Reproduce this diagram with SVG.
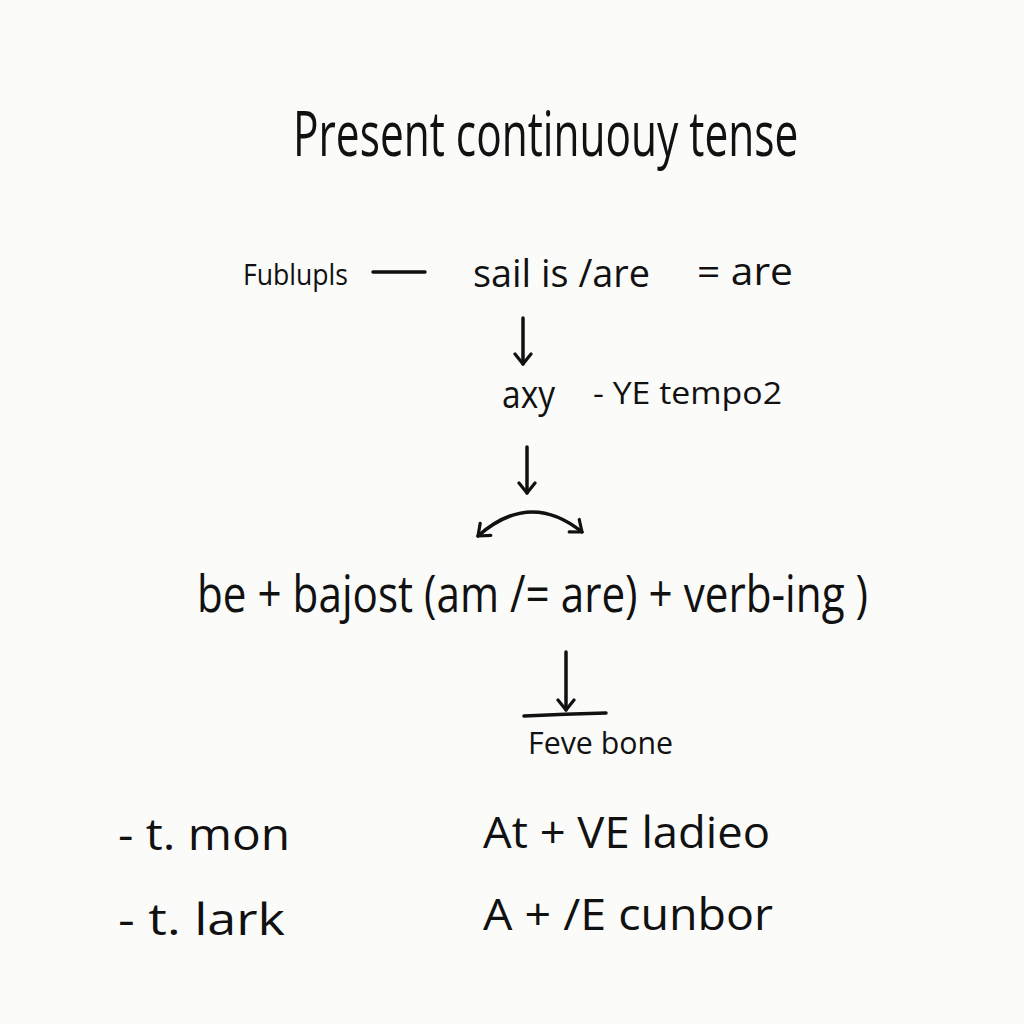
<svg xmlns="http://www.w3.org/2000/svg" width="1024" height="1024" viewBox="0 0 1024 1024">
<defs>
<style>
text{font-family:"Open Sans","Liberation Sans",sans-serif;fill:#111;}
.ln{stroke:#111;stroke-width:3.5;fill:none;stroke-linecap:round;stroke-linejoin:round;}
</style>
<marker id="ah" viewBox="0 0 16 20" refX="12" refY="10" markerWidth="16" markerHeight="20" markerUnits="userSpaceOnUse" orient="auto-start-reverse">
<path d="M2,2 L12,10 L2,18" fill="none" stroke="#111" stroke-width="3.2" stroke-linecap="round" stroke-linejoin="round"/>
</marker>
</defs>
<rect width="1024" height="1024" fill="#fbfbf9"/>
<g id="title"><text transform="translate(293,156) scale(0.62,1)" x="0" y="0" font-size="62" textLength="815" lengthAdjust="spacingAndGlyphs">Present continuouy tense</text></g>
<g id="row1">
<text x="243" y="285" font-size="30" textLength="105" lengthAdjust="spacingAndGlyphs">Fublupls</text>
<text x="473" y="287" font-size="38" textLength="177" lengthAdjust="spacingAndGlyphs">sail is /are</text>
<text x="697" y="285" font-size="38" textLength="96" lengthAdjust="spacingAndGlyphs">= are</text>
</g>
<g id="row2">
<text x="502" y="408" font-size="38" textLength="53" lengthAdjust="spacingAndGlyphs">axy</text>
<text x="593" y="404" font-size="31" textLength="189" lengthAdjust="spacingAndGlyphs">- YE tempo2</text>
</g>
<g id="formula"><text x="197" y="612" font-size="52" textLength="671" lengthAdjust="spacingAndGlyphs">be + bajost (am /= are) + verb-ing )</text></g>
<g id="result"><text x="528" y="754" font-size="31" textLength="145" lengthAdjust="spacingAndGlyphs">Feve bone</text></g>
<g id="left-list">
<text x="118" y="850" font-size="44" textLength="172" lengthAdjust="spacingAndGlyphs">- t. mon</text>
<text x="118" y="935" font-size="44" textLength="167" lengthAdjust="spacingAndGlyphs">- t. lark</text>
</g>
<g id="right-list">
<text x="483" y="848" font-size="44" textLength="287" lengthAdjust="spacingAndGlyphs">At + VE ladieo</text>
<text x="483" y="930" font-size="44" textLength="290" lengthAdjust="spacingAndGlyphs">A + /E cunbor</text>
</g>
<g id="connectors">
<path class="ln" d="M373,272 L425,272"/>
<path class="ln" d="M523,318 L523,364" marker-end="url(#ah)"/>
<path class="ln" d="M527,447 L527,493" marker-end="url(#ah)"/>
<path class="ln" d="M478,536 Q530,490 582,532" marker-start="url(#ah)" marker-end="url(#ah)"/>
<path class="ln" d="M566,652 L566,710" marker-end="url(#ah)"/>
<path class="ln" d="M524,716 Q565,714 606,713"/>
</g>
</svg>
